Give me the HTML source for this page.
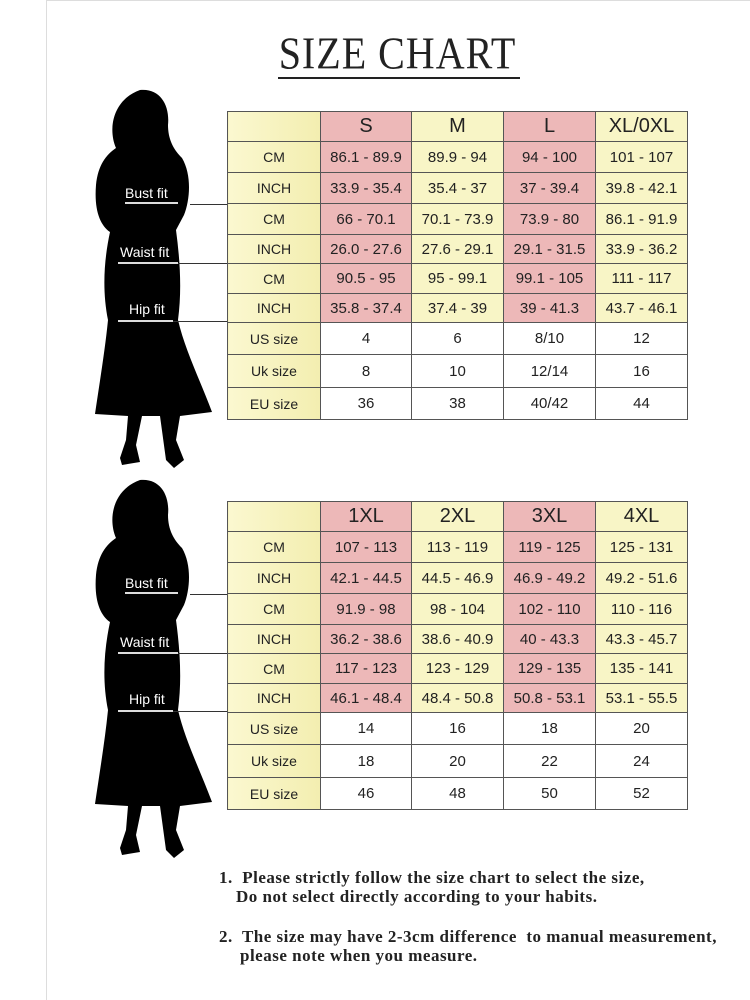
<!DOCTYPE html>
<html><head><meta charset="utf-8"><style>
body{margin:0;background:#fff;}
#pg{position:relative;width:750px;height:1000px;overflow:hidden;background:#fff;font-family:"Liberation Sans",sans-serif;}
.bl{position:absolute;left:46px;top:0;width:1px;height:1000px;background:#ddd;}
.bt{position:absolute;left:46px;top:0;width:704px;height:1px;background:#ddd;}
h1{position:absolute;left:0;width:750px;top:26px;margin:0;text-align:center;font-family:"Liberation Serif",serif;font-weight:normal;font-size:40px;letter-spacing:1px;color:#222;padding-left:45px;box-sizing:border-box;transform:scaleY(1.15);transform-origin:center top;}
.ul{position:absolute;left:278px;top:77px;width:242px;height:2px;background:#222;}
table{position:absolute;left:227px;border-collapse:collapse;table-layout:fixed;}
td{border:1.5px solid #555;text-align:center;padding:0;font-size:15px;color:#222;}
td.h{font-size:20px;}
td.l{background:linear-gradient(90deg,#fbf8d0,#f3eeb0);font-size:14px;}
.p{background:#edb8b8;}
.y{background:#f8f5c6;}
.w{background:#fff;}
.lab{position:absolute;color:#fff;font-size:14px;}
.ln{position:absolute;height:1px;background:#333;}
.ln2{position:absolute;height:2px;background:#ddd;}
.note{position:absolute;font-family:"Liberation Serif",serif;font-weight:bold;font-size:17px;letter-spacing:0.5px;color:#222;white-space:pre;}
svg{position:absolute;left:0;}
</style></head><body><div id="pg">
<div class="bl"></div><div class="bt"></div>
<h1>SIZE CHART</h1><div class="ul"></div>

<svg width="230" height="480" style="top:0" viewBox="0 0 230 480"><path fill="#000" d="M140,90 C160,88 170,105 168,125 C168,140 174,150 182,158 C192,175 190,200 184,215 L176,230 C180,260 182,290 178,320 C185,350 200,380 212,412 L180,416 L176,440 L184,460 L174,468 L166,460 L160,416 L142,416 L136,445 L140,462 L122,465 L120,458 L126,440 L128,416 L95,414 C100,380 105,350 108,320 C102,290 104,260 110,232 C100,225 94,210 96,185 C98,165 106,155 116,148 C108,130 112,100 140,90 Z"/></svg>
<svg width="230" height="480" style="top:390px" viewBox="0 0 230 480"><path fill="#000" d="M140,90 C160,88 170,105 168,125 C168,140 174,150 182,158 C192,175 190,200 184,215 L176,230 C180,260 182,290 178,320 C185,350 200,380 212,412 L180,416 L176,440 L184,460 L174,468 L166,460 L160,416 L142,416 L136,445 L140,462 L122,465 L120,458 L126,440 L128,416 L95,414 C100,380 105,350 108,320 C102,290 104,260 110,232 C100,225 94,210 96,185 C98,165 106,155 116,148 C108,130 112,100 140,90 Z"/></svg>

<div class="lab" style="left:125px;top:185px">Bust fit</div><div class="ln2" style="left:125px;top:202px;width:53px"></div><div class="ln" style="left:190px;top:204px;width:37px"></div>
<div class="lab" style="left:120px;top:244px">Waist fit</div><div class="ln2" style="left:118px;top:262px;width:60px"></div><div class="ln" style="left:178px;top:263px;width:49px"></div>
<div class="lab" style="left:129px;top:301px">Hip fit</div><div class="ln2" style="left:118px;top:320px;width:55px"></div><div class="ln" style="left:173px;top:321px;width:54px"></div>

<div class="lab" style="left:125px;top:575px">Bust fit</div><div class="ln2" style="left:125px;top:592px;width:53px"></div><div class="ln" style="left:190px;top:594px;width:37px"></div>
<div class="lab" style="left:120px;top:634px">Waist fit</div><div class="ln2" style="left:118px;top:652px;width:60px"></div><div class="ln" style="left:178px;top:653px;width:49px"></div>
<div class="lab" style="left:129px;top:691px">Hip fit</div><div class="ln2" style="left:118px;top:710px;width:55px"></div><div class="ln" style="left:173px;top:711px;width:54px"></div>

<table style="top:111px"><colgroup><col style="width:93px"><col style="width:91px"><col style="width:92px"><col style="width:92px"><col style="width:92px"></colgroup>
<tr style="height:30px"><td class="l"></td><td class="p h">S</td><td class="y h">M</td><td class="p h">L</td><td class="y h">XL/0XL</td></tr>
<tr style="height:31px"><td class="l">CM</td><td class="p">86.1 - 89.9</td><td class="y">89.9 - 94</td><td class="p">94 - 100</td><td class="y">101 - 107</td></tr>
<tr style="height:31px"><td class="l">INCH</td><td class="p">33.9 - 35.4</td><td class="y">35.4 - 37</td><td class="p">37 - 39.4</td><td class="y">39.8 - 42.1</td></tr>
<tr style="height:31px"><td class="l">CM</td><td class="p">66 - 70.1</td><td class="y">70.1 - 73.9</td><td class="p">73.9 - 80</td><td class="y">86.1 - 91.9</td></tr>
<tr style="height:29px"><td class="l">INCH</td><td class="p">26.0 - 27.6</td><td class="y">27.6 - 29.1</td><td class="p">29.1 - 31.5</td><td class="y">33.9 - 36.2</td></tr>
<tr style="height:30px"><td class="l">CM</td><td class="p">90.5 - 95</td><td class="y">95 - 99.1</td><td class="p">99.1 - 105</td><td class="y">111 - 117</td></tr>
<tr style="height:29px"><td class="l">INCH</td><td class="p">35.8 - 37.4</td><td class="y">37.4 - 39</td><td class="p">39 - 41.3</td><td class="y">43.7 - 46.1</td></tr>
<tr style="height:32px"><td class="l">US size</td><td class="w">4</td><td class="w">6</td><td class="w">8/10</td><td class="w">12</td></tr>
<tr style="height:33px"><td class="l">Uk size</td><td class="w">8</td><td class="w">10</td><td class="w">12/14</td><td class="w">16</td></tr>
<tr style="height:32px"><td class="l">EU size</td><td class="w">36</td><td class="w">38</td><td class="w">40/42</td><td class="w">44</td></tr>
</table>

<table style="top:501px"><colgroup><col style="width:93px"><col style="width:91px"><col style="width:92px"><col style="width:92px"><col style="width:92px"></colgroup>
<tr style="height:30px"><td class="l"></td><td class="p h">1XL</td><td class="y h">2XL</td><td class="p h">3XL</td><td class="y h">4XL</td></tr>
<tr style="height:31px"><td class="l">CM</td><td class="p">107 - 113</td><td class="y">113 - 119</td><td class="p">119 - 125</td><td class="y">125 - 131</td></tr>
<tr style="height:31px"><td class="l">INCH</td><td class="p">42.1 - 44.5</td><td class="y">44.5 - 46.9</td><td class="p">46.9 - 49.2</td><td class="y">49.2 - 51.6</td></tr>
<tr style="height:31px"><td class="l">CM</td><td class="p">91.9 - 98</td><td class="y">98 - 104</td><td class="p">102 - 110</td><td class="y">110 - 116</td></tr>
<tr style="height:29px"><td class="l">INCH</td><td class="p">36.2 - 38.6</td><td class="y">38.6 - 40.9</td><td class="p">40 - 43.3</td><td class="y">43.3 - 45.7</td></tr>
<tr style="height:30px"><td class="l">CM</td><td class="p">117 - 123</td><td class="y">123 - 129</td><td class="p">129 - 135</td><td class="y">135 - 141</td></tr>
<tr style="height:29px"><td class="l">INCH</td><td class="p">46.1 - 48.4</td><td class="y">48.4 - 50.8</td><td class="p">50.8 - 53.1</td><td class="y">53.1 - 55.5</td></tr>
<tr style="height:32px"><td class="l">US size</td><td class="w">14</td><td class="w">16</td><td class="w">18</td><td class="w">20</td></tr>
<tr style="height:33px"><td class="l">Uk size</td><td class="w">18</td><td class="w">20</td><td class="w">22</td><td class="w">24</td></tr>
<tr style="height:32px"><td class="l">EU size</td><td class="w">46</td><td class="w">48</td><td class="w">50</td><td class="w">52</td></tr>
</table>

<div class="note" style="left:219px;top:868px">1.  Please strictly follow the size chart to select the size,</div>
<div class="note" style="left:236px;top:887px">Do not select directly according to your habits.</div>
<div class="note" style="left:219px;top:927px">2.  The size may have 2-3cm difference  to manual measurement,</div>
<div class="note" style="left:240px;top:946px">please note when you measure.</div>
</div></body></html>
